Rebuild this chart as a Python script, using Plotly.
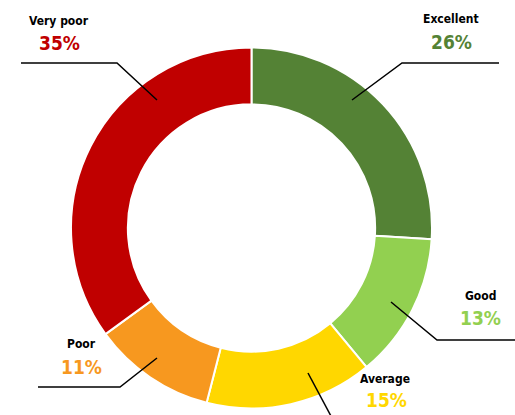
import plotly.graph_objects as go

# Data
categories = ["Excellent", "Good", "Average", "Poor", "Very poor"]
shares = [26, 13, 15, 11, 35]
colors = ["#548235", "#92D050", "#FFD700", "#F7981F", "#C00000"]

W, H = 515, 415
FONT = "DejaVu Sans Condensed, Roboto, Arial, sans-serif"


def px(x, y):
    # pixel position -> paper coords (no margins)
    return x / W, 1 - y / H


# label placement (pixels): name centre, value centre, leader polyline
label_pos = {
    "Excellent": ((451, 19), (451, 42), [(352, 100), (402, 63), (499, 63)]),
    "Good": ((480, 296), (480, 318), [(391, 302), (437, 340), (516, 340)]),
    "Average": ((385, 379), (386, 400), [(308, 373), (332, 418)]),
    "Poor": ((81, 344), (81, 367), [(157, 358), (120, 387), (38, 387)]),
    "Very poor": ((59, 21), (59, 43), [(157, 100), (117, 63), (21, 63)]),
}

fig = go.Figure()
fig.add_trace(go.Pie(
    labels=categories,
    values=shares,
    marker=dict(colors=colors, line=dict(color="white", width=2)),
    hole=0.685,
    sort=False,
    direction="clockwise",
    rotation=0,
    textinfo="none",
    hoverinfo="label+percent",
    showlegend=False,
    domain=dict(x=[71 / W, 432 / W], y=[1 - 409 / H, 1 - 47 / H]),
))

annotations = []
shapes = []
for cat, val, col in zip(categories, shares, colors):
    name_xy, val_xy, line = label_pos[cat]
    x, y = px(*name_xy)
    annotations.append(dict(x=x, y=y, xref="paper", yref="paper", text=f"<b>{cat}</b>",
                            showarrow=False, font=dict(family=FONT, size=12, color="black"),
                            xanchor="center", yanchor="middle"))
    x, y = px(*val_xy)
    annotations.append(dict(x=x, y=y, xref="paper", yref="paper", text=f"<b>{val}%</b>",
                            showarrow=False, font=dict(family=FONT, size=19, color=col),
                            xanchor="center", yanchor="middle"))
    pts = [px(a, b) for a, b in line]
    path = "M " + " L ".join(f"{a},{b}" for a, b in pts)
    shapes.append(dict(type="path", path=path, xref="paper", yref="paper",
                       line=dict(color="black", width=1.5)))

fig.update_layout(
    width=W, height=H,
    margin=dict(l=0, r=0, t=0, b=0),
    paper_bgcolor="white",
    plot_bgcolor="white",
    annotations=annotations,
    shapes=shapes,
)

fig.write_html("out.html",
               config={"displayModeBar": False},
               post_script="document.body.style.margin='0';document.body.style.overflow='hidden';")
